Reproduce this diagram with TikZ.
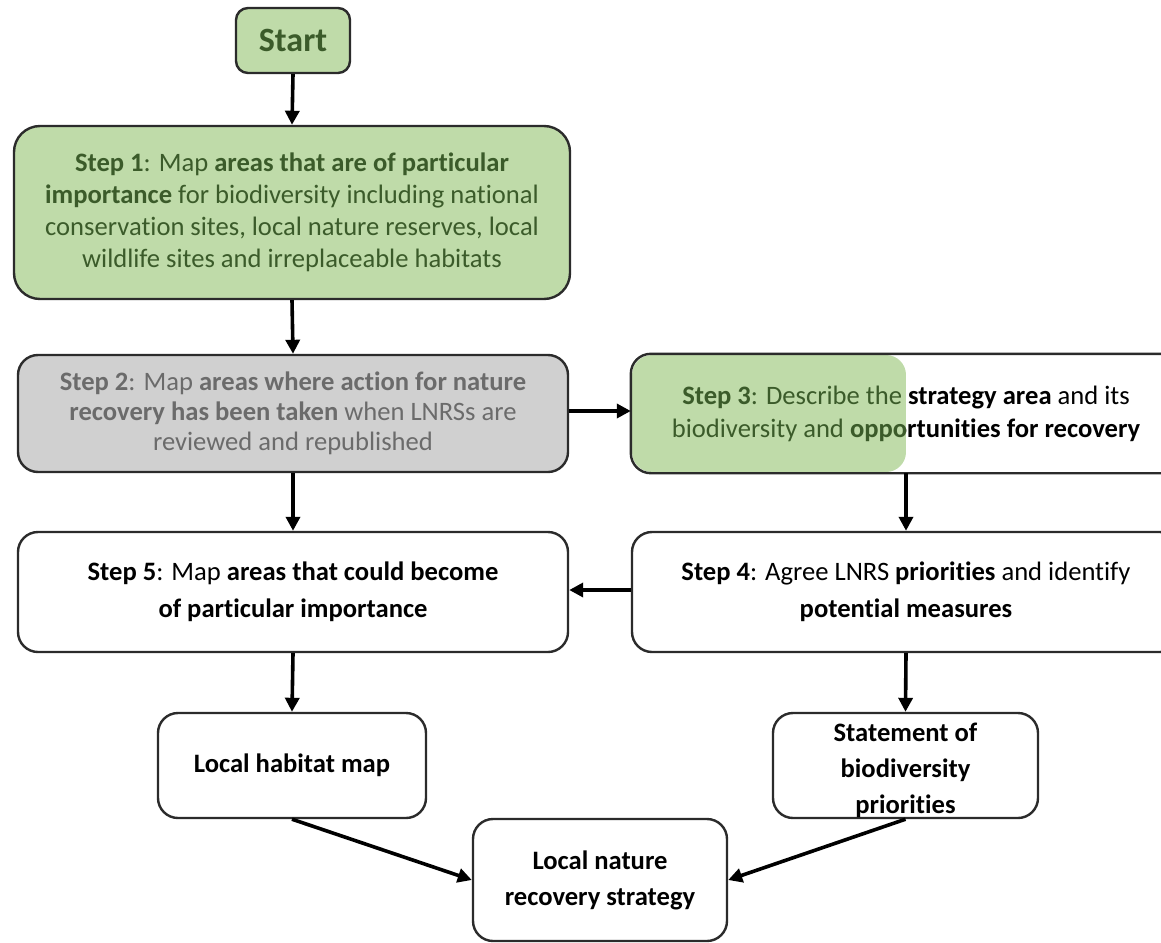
\documentclass[tikz,border=0pt]{standalone}
\usepackage{fontspec}
\setmainfont{Carlito}[Ligatures=NoCommon]
\usetikzlibrary{arrows.meta}
\definecolor{gfill}{HTML}{BFDBA9}
\definecolor{gtext}{HTML}{3B5B2A}
\definecolor{gyfill}{HTML}{D0D0D0}
\definecolor{gytext}{HTML}{6B6B6B}
\definecolor{bord}{HTML}{2B2B2B}
\tikzset{
  box/.style={draw=bord, line width=2.4pt, rounded corners=20pt, align=center, inner sep=0pt,
    font=\fontsize{26.6}{32}\selectfont},
  smallbox/.style={box, font=\bfseries\fontsize{26.6}{36}\selectfont},
  conn/.style={line width=3.6pt, -{Triangle[length=14pt,width=14pt]}},
}
\begin{document}
\begin{tikzpicture}[x=1pt,y=-1pt]
\useasboundingbox (0,0) rectangle (1161,942);
\clip (0,0) rectangle (1161,942);
\fill[white] (0,0) rectangle (1161,942);

\node[box, rounded corners=12pt, fill=gfill, text=gtext, minimum width=114pt, minimum height=65pt,
  font=\bfseries\fontsize{34}{40}\selectfont] (start) at (293,40.5) {Start};

\node[box, rounded corners=26pt, fill=gfill, text=gtext, minimum width=556pt, minimum height=173pt]
  (s1) at (292,212.5) {\textbf{Step 1}: Map \textbf{areas that are of particular}\\
  \textbf{importance} for biodiversity including national\\
  conservation sites, local nature reserves, local\\
  wildlife sites and irreplaceable habitats};

\node[box, fill=gyfill, text=gytext, minimum width=550pt, minimum height=117pt,
  font=\fontsize{26.6}{30}\selectfont]
  (s2) at (293,413.5) {\textbf{Step 2}: Map \textbf{areas where action for nature}\\
  \textbf{recovery has been taken} when LNRSs are\\
  reviewed and republished};

% Step 3: white box with partial green overlay
\node[box, draw=none, fill=white, text=black, minimum width=548pt, minimum height=117pt,
  font=\fontsize{26.6}{33}\selectfont]
  (s3) at (906,413.5) {\textbf{Step 3}: Describe the \textbf{strategy area} and its\\
  biodiversity and \textbf{opportunities for recovery}};
\begin{scope}
  \clip[rounded corners=20pt] (632,355) rectangle (906,472);
  \fill[gfill] (632,355) rectangle (906,472);
  \node[align=center, inner sep=0pt, text=gtext, font=\fontsize{26.6}{33}\selectfont]
    (s3g) at (906,413.5) {\textbf{Step 3}: Describe the \textbf{strategy area} and its\\
    biodiversity and \textbf{opportunities for recovery}};
\end{scope}
\draw[draw=bord, line width=2.4pt, rounded corners=20pt] (s3.north west) rectangle (s3.south east);

\node[box, fill=white, minimum width=548pt, minimum height=120pt, font=\fontsize{26.6}{37}\selectfont]
  (s4) at (906,592) {\textbf{Step 4}: Agree LNRS \textbf{priorities} and identify\\
  \textbf{potential measures}};

\node[box, fill=white, minimum width=550pt, minimum height=120pt, font=\fontsize{26.6}{37}\selectfont]
  (s5) at (293,592) {\textbf{Step 5}: Map \textbf{areas that could become}\\
  \textbf{of particular importance}};

\node[smallbox, fill=white, minimum width=268pt, minimum height=105pt]
  (hab) at (292,765.5) {Local habitat map};

\node[smallbox, minimum width=265pt, minimum height=105pt]
  (stat) at (905.5,765.5) {\phantom{x}};
\node[align=center, inner sep=0pt, font=\bfseries\fontsize{26.6}{36}\selectfont]
  (statt) at (905.5,770) {Statement of\\ biodiversity\\ priorities};

\node[smallbox, fill=white, minimum width=254pt, minimum height=122pt]
  (lnrs) at (600,880) {Local nature\\ recovery strategy};

\draw[conn] (start.south) -- (s1.north);
\draw[conn] (s1.south) -- (s2.north);
\draw[conn] (s2.east |- 0,411) -- (s3.west |- 0,411);
\draw[conn] (s2.south) -- (s5.north);
\draw[conn] (s3.south) -- (s4.north);
\draw[conn] (s4.west |- 0,590) -- (s5.east |- 0,590);
\draw[conn] (s5.south) -- (hab.north);
\draw[conn] (s4.south) -- (stat.north);
\draw[conn] (hab.south) -- (lnrs.west);
\draw[conn] (stat.south) -- (lnrs.east);
\end{tikzpicture}
\end{document}
